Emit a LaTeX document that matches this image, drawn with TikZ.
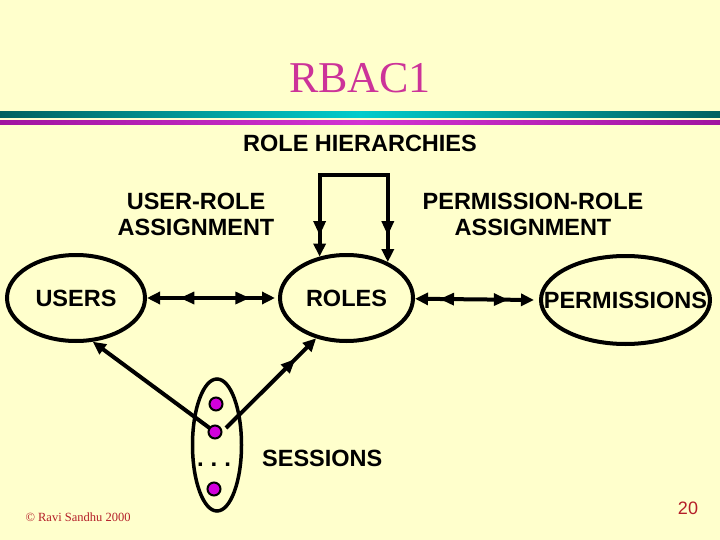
\documentclass[tikz,border=0pt]{standalone}
\usepackage{fontspec}
\setmainfont{Liberation Serif}
\setsansfont{Liberation Sans}
\usetikzlibrary{shapes.geometric,arrows.meta,decorations.markings,calc}
\definecolor{bg}{RGB}{255,255,204}
\definecolor{titlec}{RGB}{204,51,153}
\definecolor{tealdark}{RGB}{0,96,96}
\definecolor{teallight}{RGB}{0,204,204}
\definecolor{magdark}{RGB}{160,20,160}
\definecolor{maglight}{RGB}{210,50,210}
\definecolor{dotc}{RGB}{210,0,220}
\definecolor{redc}{RGB}{180,30,40}
\tikzset{
  arw/.tip={Triangle[length=13pt,width=12pt]},
  lbl/.style={font=\fontsize{23.5}{26}\selectfont\sffamily\bfseries, align=center, inner sep=0pt},
  ent/.style={ellipse, draw, line width=4pt, inner sep=0pt},
  conn/.style={line width=4pt},
  dotnode/.style={circle, fill=dotc, draw=black, line width=2pt, minimum size=13pt, inner sep=0pt},
  midtwo/.style 2 args={postaction={decorate}, decoration={markings,
      mark=at position #1 with {\fill (0pt,0pt) -- (14pt,6.5pt) -- (14pt,-6.5pt) -- cycle;},
      mark=at position #2 with {\fill (0pt,0pt) -- (-14pt,6.5pt) -- (-14pt,-6.5pt) -- cycle;}}},
  midone/.style={postaction={decorate}, decoration={markings,
      mark=at position #1 with {\fill (0pt,0pt) -- (-14pt,6.5pt) -- (-14pt,-6.5pt) -- cycle;}}}
}
\begin{document}
\begin{tikzpicture}[x=1pt,y=-1pt]
\fill[bg] (0,0) rectangle (720,540);
\useasboundingbox (0,0) rectangle (720,540);
% header bars
\shade[left color=tealdark, right color=tealdark, middle color=teallight] (0,112) rectangle (720,118);
\shade[left color=magdark, right color=magdark, middle color=maglight] (0,121) rectangle (720,125);
% texts
\node[font=\fontsize{44}{44}\selectfont, text=titlec] (title) at (360,78) {RBAC1};
\node[lbl] (rh) at (360,143) {ROLE HIERARCHIES};
\node[lbl] (ura) at (196,214) {USER-ROLE\\ASSIGNMENT};
\node[lbl] (pra) at (533,214) {PERMISSION-ROLE\\ASSIGNMENT};
% entities
\node[ent, minimum width=138pt, minimum height=86pt] (users) at (76,298) {};
\node[lbl] (usersl) at (users.center) {USERS};
\node[ent, minimum width=133pt, minimum height=86pt] (roles) at (346.5,298) {};
\node[lbl] (rolesl) at (roles.center) {ROLES};
\node[ent, minimum width=169pt, minimum height=88pt] (perms) at (625.5,300) {};
\node[lbl] (permsl) at (perms.center) {PERMISSIONS};
\node[ellipse, draw, line width=3.5pt, minimum width=49pt, minimum height=132pt, inner sep=0pt] (sessions) at (217,445) {};
\node[lbl, anchor=west] (sess) at (262,458) {SESSIONS};
\node[font=\fontsize{24}{24}\selectfont\sffamily\bfseries, inner sep=0pt, anchor=base] (ell) at (214,466) {.\hspace{7pt}.\hspace{7pt}.};
% connectors
\draw[conn, {arw}-{arw}, midtwo={0.26}{0.80}] (users) -- ([xshift=-3pt]roles.west);
\draw[conn, {arw}-{arw}, midtwo={0.21}{0.78}] (roles) -- ([xshift=-5pt]perms.west);
\coordinate (hT) at (354,175);
\draw[conn, {arw}-{arw}, line join=miter, midtwo={0.091}{0.886}] (roles.123) -- (roles.123 |- hT) -- (roles.41 |- hT) -- (roles.41);
% session dots
\coordinate (s2c) at (215,432);
\draw[conn, -{arw}] (s2c) -- (users.-69);
\draw[conn, -{arw}, midone=0.77] ([xshift=11pt,yshift=4pt]s2c) -- (roles.-127);
\node[dotnode] (s1) at (216,404) {};
\node[dotnode] (s2) at (215,432) {};
\node[dotnode] (s4) at (214,489) {};
% footer
\node[font=\fontsize{12.5}{12.5}\selectfont, text=redc, anchor=west] (copy) at (22,517) {© Ravi Sandhu 2000};
\node[font=\sffamily\fontsize{18}{18}\selectfont, text=redc] (pg) at (688,508) {20};
\end{tikzpicture}
\end{document}
